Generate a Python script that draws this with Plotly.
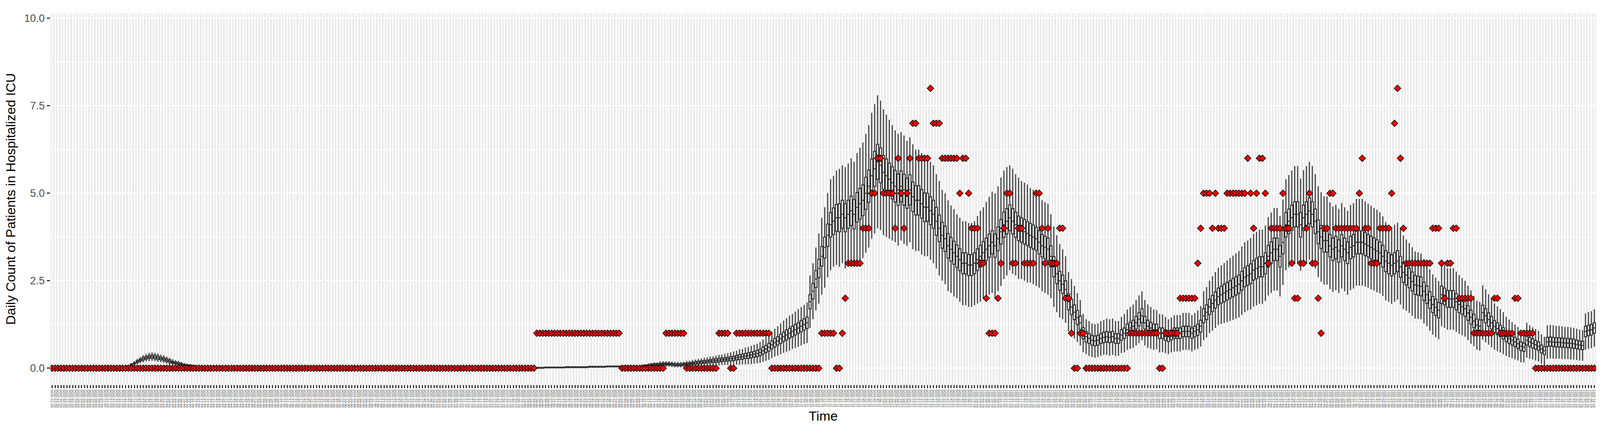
import pandas as pd
import plotly.graph_objects as go

# day index 0 = 02-22-2020, last = 07-31-2021
dates = pd.date_range("2020-02-22", "2021-07-31", freq="D")
date_labels = [d.strftime("%m-%d-%Y") for d in dates]

# simulated daily ICU count: median of the runs per day
median = (
    [0] * 25
    + [.03, .06, .1, .14, .19, .23, .27, .3, .32, .33, .32, .3, .28, .26, .23, .2, .17, .15, .13, .11,
       .09, .08, .07, .06, .05, .04, .03, .02, .02, .01, .01, 0]
    + [0] * 104
    + [.01, .01, .01, .01, .01, .01, .01, .02, .02, .02, .02, .02, .02, .02, .03, .03, .03, .03, .03, .03,
       .03, .03, .04, .04, .04, .04, .04, .04, .05, .05, .05, .05, .05, .05, .05, .05, .05, .05, .05, .05]
    + [.06, .07, .08, .09, .1, .1, .11, .12, .12, .12, .11, .1, .1, .1, .11, .12, .13, .14, .15, .16,
       .17, .18, .19, .2, .21, .22, .23, .24, .25, .26, .27]
    + [.28, .3, .32, .33, .35, .36, .38, .4, .42, .45, .5, .55, .6, .67, .73, .78, .84, .9, .95, 1.0,
       1.05, 1.1, 1.15, 1.2, 1.25, 1.3, 1.9, 2.2, 2.55, 2.85, 3.2, 3.45, 3.8, 4.1]
    + [4.2, 4.3, 4.3, 4.4, 4.3, 4.4, 4.5, 4.4, 4.6, 4.7, 4.8, 5.0, 5.2, 5.5, 5.7, 5.9, 5.8, 5.6, 5.5, 5.4,
       5.3, 5.2, 5.1, 5.2, 5.1, 5.0, 5.1, 4.9, 4.8, 4.8, 4.7, 4.6, 4.6, 4.5]
    + [4.4, 4.2, 4.0, 3.8, 3.7, 3.5, 3.4, 3.3, 3.2, 3.1, 3.0, 3.0, 2.95, 2.95, 3.0, 3.1, 3.2, 3.3, 3.4, 3.5,
       3.6, 3.5, 3.7, 3.9, 4.1, 4.2]
    + [4.3, 4.2, 4.1, 4.0, 3.95, 3.9, 3.85, 3.8, 3.75, 3.7, 3.6, 3.5, 3.45, 3.4, 3.2, 2.9, 2.7, 2.5, 2.4, 2.25,
       1.9, 1.75, 1.6, 1.45, 1.3, 1.0]
    + [.9, .85, .8, .78, .8, .85, .88, .9, .88, .9, .85, .85, .95, 1.0, 1.1, 1.15, 1.2, 1.3, 1.4, 1.5,
       1.3, 1.2, 1.15, 1.1, 1.1, 1.0, 1.0, .95, .9, .95, 1.0, 1.0, 1.0, 1.05]
    + [1.05, 1.05, 1.0, 1.05, 1.1, 1.2, 1.5, 1.6, 1.75, 1.85, 1.95, 2.05, 2.1, 2.15, 2.2, 2.25, 2.3, 2.35, 2.4, 2.5,
       2.6, 2.65, 2.7, 2.8, 2.85, 2.9, 2.9, 3.0, 3.2, 3.3, 3.4, 3.4, 3.2, 3.6, 4.1, 4.2, 4.3, 4.4, 4.4, 4.1,
       4.3, 4.4, 4.5, 4.4, 4.2, 3.9]
    + [3.75, 3.65, 3.65, 3.5, 3.4, 3.45, 3.35, 3.5, 3.4, 3.3, 3.45, 3.5, 3.6, 3.6, 3.6, 3.55, 3.5, 3.45, 3.4, 3.35,
       3.3, 3.2, 3.06, 3.0, 2.94, 3.0, 3.06, 2.9, 2.74, 2.66, 2.58, 2.48, 2.38, 2.36, 2.34, 2.2, 2.1, 1.95, 1.82, 1.74,
       1.66, 2.1, 2.05, 1.98, 1.98, 1.98, 1.9, 1.82, 1.76, 1.7, 1.58, 1.46, 1.35, 1.23, 1.2, 1.59, 1.5, 1.39]
    + [1.3, 1.19, 1.13, 1.07, 1.0, .91, .85, .8, .75, .7, .63, .6, .8, .75, .71, .67, .63, .55, .5, .75,
       .76, .75, .74, .74, .73, .72, .72, .71, .7, .68, .66, .65, 1.05, 1.08, 1.1, 1.15]
)

# half height of the box (IQR / 2)
box_half = (
    [0] * 25
    + [.01, .01, .02, .02, .03, .03, .04, .04, .04, .05, .05, .05, .04, .04, .04, .04, .03, .03, .03, .03,
       .02, .02, .02, .02, .01, .01, .01, .01, .01, .01, 0, 0]
    + [0] * 104
    + [.01] * 40
    + [.02, .02, .02, .03, .03, .03, .03, .03, .03, .03, .03, .03, .03, .03, .03, .03, .03, .03, .04, .04,
       .04, .04, .04, .04, .05, .05, .05, .05, .05, .05, .06]
    + [.06, .06, .07, .07, .07, .08, .08, .08, .09, .09, .1, .1, .11, .11, .12, .12, .13, .13, .14, .14,
       .15, .15, .15, .16, .16, .16, .2, .22, .24, .26, .28, .3, .32, .35]
    + [.38, .38, .4, .4, .4, .4, .42, .42, .42, .44, .44, .46, .46, .48, .5, .5, .5, .48, .48, .46,
       .46, .45, .45, .44, .44, .43, .43, .42, .42, .42, .41, .41, .4, .4]
    + [.4, .4, .38, .37, .36, .35, .34, .33, .32, .31, .3, .3, .3, .3, .3, .31, .31, .32, .32, .33,
       .33, .33, .34, .35, .36, .36]
    + [.37, .36, .36, .35, .35, .35, .34, .34, .34, .33, .33, .32, .32, .32, .3, .29, .28, .27, .26, .25,
       .23, .22, .21, .2, .19, .16]
    + [.15, .14, .14, .14, .14, .14, .15, .15, .15, .15, .14, .14, .15, .15, .16, .16, .17, .18, .19, .2,
       .18, .17, .16, .16, .16, .15, .15, .15, .14, .14, .15, .15, .15, .15]
    + [.15, .15, .15, .15, .16, .17, .2, .21, .22, .23, .23, .24, .24, .25, .25, .25, .26, .26, .26, .27,
       .27, .28, .28, .28, .29, .29, .29, .3, .31, .31, .32, .32, .31, .33, .35, .35, .36, .36, .36, .35,
       .36, .36, .37, .36, .35, .34]
    + [.33, .33, .33, .32, .32, .32, .32, .32, .32, .31, .32, .32, .33, .33, .33, .33, .32, .32, .32, .32,
       .31, .31, .3, .3, .3, .3, .3, .3, .29, .28, .28, .27, .27, .27, .27, .26, .25, .24, .23, .23,
       .22, .25, .24, .24, .24, .24, .23, .23, .22, .22, .21, .2, .19, .18, .18, .21, .2, .19]
    + [.18, .17, .17, .16, .16, .15, .14, .14, .13, .13, .12, .12, .14, .13, .13, .12, .12, .11, .11, .13,
       .13, .13, .13, .13, .13, .13, .13, .13, .13, .12, .12, .12, .15, .15, .15, .15]
)

# whisker reach from the median
whisk = (
    [0] * 25
    + [.02, .04, .05, .06, .08, .09, .1, .11, .12, .12, .12, .12, .11, .11, .1, .1, .09, .08, .08, .07,
       .06, .05, .05, .04, .04, .03, .03, .02, .02, .01, .01, 0]
    + [0] * 104
    + [.03] * 40
    + [.05, .05, .06, .06, .07, .07, .08, .08, .08, .08, .08, .08, .08, .08, .08, .09, .09, .1, .1, .11,
       .11, .12, .12, .13, .13, .14, .15, .15, .16, .17, .18]
    + [.2, .2, .22, .22, .24, .25, .26, .27, .28, .3, .32, .34, .36, .38, .4, .42, .44, .46, .48, .5,
       .5, .52, .54, .55, .56, .58, .75, .8, .9, 1.0, 1.1, 1.15, 1.2, 1.3]
    + [1.3, 1.35, 1.4, 1.4, 1.45, 1.45, 1.5, 1.5, 1.55, 1.6, 1.65, 1.7, 1.75, 1.8, 1.85, 1.9, 1.85, 1.8, 1.75, 1.7,
       1.65, 1.6, 1.6, 1.55, 1.55, 1.5, 1.5, 1.5, 1.45, 1.45, 1.45, 1.4, 1.4, 1.4]
    + [1.4, 1.35, 1.35, 1.3, 1.3, 1.3, 1.25, 1.25, 1.2, 1.2, 1.2, 1.2, 1.2, 1.2, 1.2, 1.25, 1.3, 1.3, 1.35, 1.4,
       1.45, 1.5, 1.5, 1.55, 1.55, 1.55]
    + [1.5, 1.5, 1.45, 1.45, 1.4, 1.4, 1.4, 1.35, 1.35, 1.35, 1.3, 1.3, 1.3, 1.3, 1.2, 1.15, 1.1, 1.05, 1.0, .95,
       .85, .8, .75, .7, .65, .55]
    + [.5, .5, .48, .48, .48, .5, .5, .52, .52, .52, .5, .5, .52, .55, .58, .6, .62, .65, .68, .7,
       .65, .62, .6, .58, .56, .55, .54, .52, .5, .5, .52, .52, .52, .53]
    + [.53, .53, .52, .53, .55, .58, .7, .72, .75, .78, .8, .82, .84, .86, .88, .9, .92, .94, .95, .98,
       1.0, 1.0, 1.02, 1.04, 1.05, 1.06, 1.06, 1.08, 1.12, 1.15, 1.18, 1.18, 1.15, 1.22, 1.3, 1.32, 1.35, 1.38, 1.38, 1.32,
       1.36, 1.38, 1.4, 1.38, 1.35, 1.3]
    + [1.28, 1.26, 1.26, 1.24, 1.22, 1.22, 1.2, 1.22, 1.2, 1.2, 1.22, 1.22, 1.24, 1.24, 1.24, 1.22, 1.2, 1.2, 1.18, 1.18,
       1.16, 1.14, 1.12, 1.1, 1.1, 1.1, 1.1, 1.08, 1.05, 1.02, 1.0, .98, .96, .95, .94, .92, .9, .88, .86, .85,
       .83, .9, .9, .88, .88, .88, .86, .84, .82, .8, .78, .76, .72, .7, .7, .78, .76, .72]
    + [.7, .66, .64, .62, .6, .56, .54, .52, .5, .48, .46, .44, .5, .48, .46, .45, .44, .42, .4, .48,
       .48, .48, .47, .47, .47, .46, .46, .46, .45, .45, .44, .44, .52, .53, .53, .54]
)

# observed daily counts as (value, number of consecutive days)
observed_runs = [
    (0, 165), (1, 29), (0, 15), (1, 7), (0, 11), (1, 4), (0, 2), (1, 12), (0, 17), (1, 5),
    (0, 2), (1, 1), (2, 1), (3, 5), (4, 3), (5, 2), (6, 2), (5, 4), (4, 1), (6, 1),
    (5, 1), (4, 1), (5, 1), (6, 1), (7, 2), (6, 4), (8, 1), (7, 3), (6, 6), (5, 1),
    (6, 2), (5, 1), (4, 3), (3, 2), (2, 1), (1, 3), (2, 1), (3, 1), (4, 1), (5, 2),
    (3, 2), (4, 2), (3, 4), (5, 2), (4, 1), (3, 1), (4, 1), (3, 3), (4, 2), (2, 2),
    (1, 1), (0, 2), (1, 2), (0, 15), (1, 10), (0, 2), (1, 5), (2, 6), (3, 1), (4, 1),
    (5, 3), (4, 1), (5, 1), (4, 3), (5, 7), (6, 1), (5, 1), (4, 1), (5, 1), (6, 2),
    (5, 1), (3, 1), (4, 4), (5, 1), (4, 2), (3, 1), (2, 2), (3, 2), (4, 1), (5, 1),
    (3, 2), (2, 1), (1, 1), (4, 2), (5, 2), (4, 8), (5, 1), (6, 1), (4, 2), (3, 3),
    (4, 4), (5, 1), (7, 1), (8, 1), (6, 1), (4, 1), (3, 9), (4, 3), (3, 1), (2, 1),
    (3, 2), (4, 2), (2, 5), (1, 7), (2, 2), (1, 5), (2, 2), (1, 5), (0, 21),
]

observed = []
for v, n in observed_runs:
    observed += [v] * n

days = list(range(len(dates)))
q1 = [max(0, m - b) for m, b in zip(median, box_half)]
q3 = [m + b for m, b in zip(median, box_half)]
lo = [max(0, m - w) for m, w in zip(median, whisk)]
hi = [m + w for m, w in zip(median, whisk)]

fig = go.Figure()

fig.add_trace(go.Box(
    x=days, q1=q1, median=median, q3=q3, lowerfence=lo, upperfence=hi,
    width=0.75, whiskerwidth=0, boxpoints=False,
    fillcolor="white", line=dict(color="#333333", width=2.6),
    hoverinfo="skip",
))

fig.add_trace(go.Scatter(
    x=days[:len(observed)], y=observed, mode="markers",
    marker=dict(symbol="diamond", size=13, color="red", line=dict(color="black", width=1.6)),
    hoverinfo="skip",
))

fig.update_layout(
    autosize=True,
    margin=dict(l=121, r=18, t=26, b=119, autoexpand=False),
    paper_bgcolor="white", plot_bgcolor="#EBEBEB",
    showlegend=False,
    font=dict(family="Liberation Sans, Arial, sans-serif", color="black"),
    xaxis=dict(
        title=dict(text="Time", font=dict(size=34), standoff=10),
        range=[-0.6, len(dates) - 0.4],
        tickmode="array", tickvals=days, ticktext=date_labels, tickangle=-90,
        tickfont=dict(size=9, color="#4D4D4D"),
        ticks="outside", ticklen=8, tickwidth=2.5, tickcolor="#333333",
        showgrid=True, gridcolor="white", gridwidth=2.5, zeroline=False,
    ),
    yaxis=dict(
        title=dict(text="Daily Count of Patients in Hospitalized ICU", font=dict(size=34), standoff=12),
        range=[-0.47, 10.145],
        tickvals=[0, 2.5, 5, 7.5, 10], ticktext=["0.0", "2.5", "5.0", "7.5", "10.0"],
        tickfont=dict(size=27, color="#4D4D4D"),
        ticks="outside", ticklen=8, tickwidth=2.5, tickcolor="#333333",
        showgrid=True, gridcolor="white", gridwidth=3, zeroline=False,
        minor=dict(tickvals=[1.25, 3.75, 6.25, 8.75], showgrid=True, gridcolor="white", gridwidth=1.5, ticks=""),
    ),
)

fig.write_html("out.html", default_width="100vw", default_height="100vh")
